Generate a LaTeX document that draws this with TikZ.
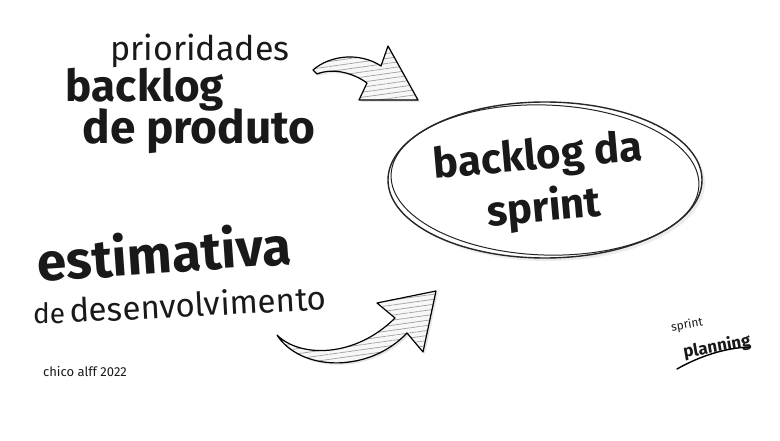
\documentclass[tikz,border=0pt]{standalone}
\usepackage{fontspec}
\setmainfont{Fira Sans}
\usetikzlibrary{shapes.geometric, positioning, patterns.meta, shadows}

\begin{document}
\begin{tikzpicture}[x=1pt, y=-1pt,
    word/.style={inner sep=0pt, text=black!90, font=\fontsize{#1}{#1}\selectfont},
    bold/.style={inner sep=0pt, text=black!90, font=\fontsize{#1}{#1}\selectfont\bfseries},
    sketch/.style={draw=black!85, line width=1.4pt},
    fatarrow/.style={draw=black, line width=1.2pt, line join=round,
        drop shadow={shadow xshift=2pt, shadow yshift=-2pt, opacity=0.2},
        preaction={fill=gray!6},
        pattern={Lines[angle=8, distance=5pt, line width=0.7pt]}, pattern color=gray!75}
]
    \useasboundingbox (0,0) rectangle (780,441);

    % Backlog de produto
    \node[word=34] (prio) at (200,51) {prioridades};
    \node[bold=44] (backlog) at (145,90) {backlog};
    \node[bold=46] (deproduto) at (199,131) {de produto};

    % Backlog da sprint
    \node[ellipse, sketch, fill=white, minimum width=314pt, minimum height=156pt,
          drop shadow={shadow xshift=3pt, shadow yshift=-3pt, opacity=0.15}] (sprintbl) at (545,180) {};
    \draw[sketch, line width=1pt, rotate around={-2:(sprintbl.center)}] (sprintbl.center) ellipse [x radius=154pt, y radius=75pt];
    \node[bold=42, rotate=5] (bltxt) at (538,158) {backlog da};
    \node[bold=42, rotate=5] (sprinttxt) at (544,209) {sprint};

    % Estimativa
    \node[bold=53, rotate=4] (estim) at (164,252) {estimativa};
    \node[word=28, anchor=base west] (de) at (33,323) {de};
    \node[word=33, anchor=base west, rotate=3] (desenv) at (70,323) {desenvolvimento};

    % Arrows
    \draw[fatarrow] (313,70) .. controls (330,55) and (360,52) .. (381,66) -- (388,46)
        -- (418,100) -- (359,100) -- (367,83) .. controls (352,72) and (332,68) .. (317,74) -- cycle;
    \draw[fatarrow] (277,335) .. controls (300,358) and (355,358) .. (395,318) -- (377,303)
        -- (436,291) -- (423,352) -- (407,333) .. controls (370,372) and (305,372) .. (279,338) -- cycle;

    % Credit and logo
    \node[word=13] (credit) at (85,372) {chico alff 2022};
    \node[word=12, rotate=10] (sprintword) at (687,325) {sprint};
    \node[bold=17, rotate=10] (planning) at (717,347) {planning};
    \draw[line width=1.4pt, line cap=round] (677,369) .. controls (700,356) and (725,348) .. (749,347);
\end{tikzpicture}
\end{document}
